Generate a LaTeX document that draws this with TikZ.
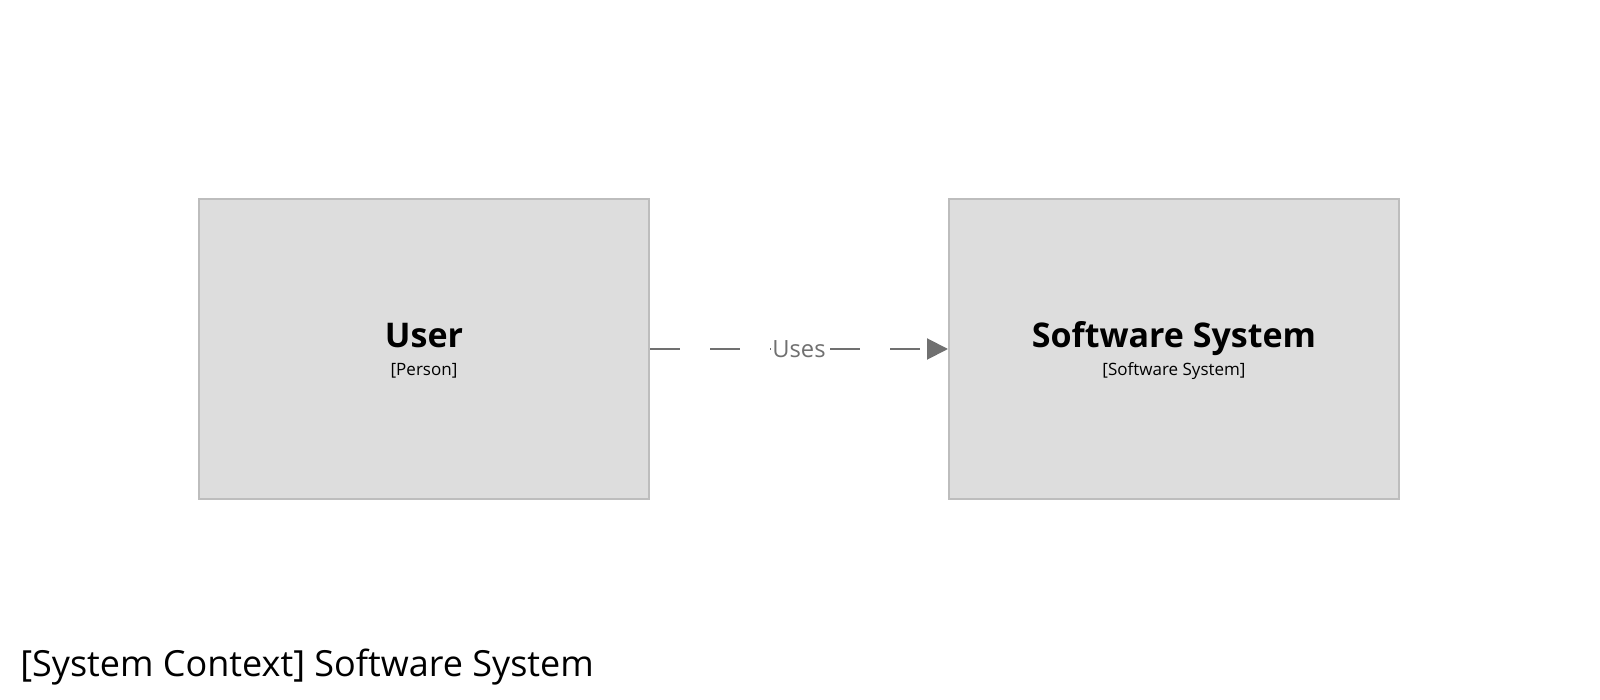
\documentclass[tikz,border=0pt]{standalone}
\usepackage{fontspec}
\setmainfont{Open Sans}
\usetikzlibrary{arrows.meta}

\definecolor{boxfill}{HTML}{DDDDDD}
\definecolor{boxline}{HTML}{BDBDBD}
\definecolor{relgray}{HTML}{707070}

\tikzset{
  element/.style={draw=boxline, fill=boxfill, line width=1.5pt,
    minimum width=450*0.75pt, minimum height=300*0.75pt, inner sep=0pt},
  elname/.style={font=\fontsize{25.5}{30}\selectfont\bfseries, inner sep=0pt, anchor=base},
  eltype/.style={font=\fontsize{12.75}{15}\selectfont, inner sep=0pt, anchor=base},
  relation/.style={draw=relgray, line width=1.5pt, dash pattern=on 22.5pt off 22.5pt,
    -{Triangle[length=15.75pt, width=15.75pt]}},
  rellabel/.style={font=\fontsize{17.8}{21}\selectfont, text=relgray, fill=white, inner sep=1pt}
}

\begin{document}
\begin{tikzpicture}[x=0.75pt,y=0.75pt]
  \useasboundingbox (0,0) rectangle (1600,700);

  \node[element] (user) at (424,351){};
  \node[element] (system) at (1174,351){};

  \node[elname] (userName) at (424,352){User};
  \node[eltype] (userType) at (424,324){[Person]};

  \node[elname] (systemName) at (1174,352){Software System};
  \node[eltype] (systemType) at (1174,324){[Software System]};

  \draw[relation] (user) -- (system)
    node[rellabel, midway] (uses) {Uses};

  \node[anchor=base west, inner sep=0pt, font=\fontsize{27}{32}\selectfont]
    (title) at (20,23){[System Context] Software System};
\end{tikzpicture}
\end{document}
